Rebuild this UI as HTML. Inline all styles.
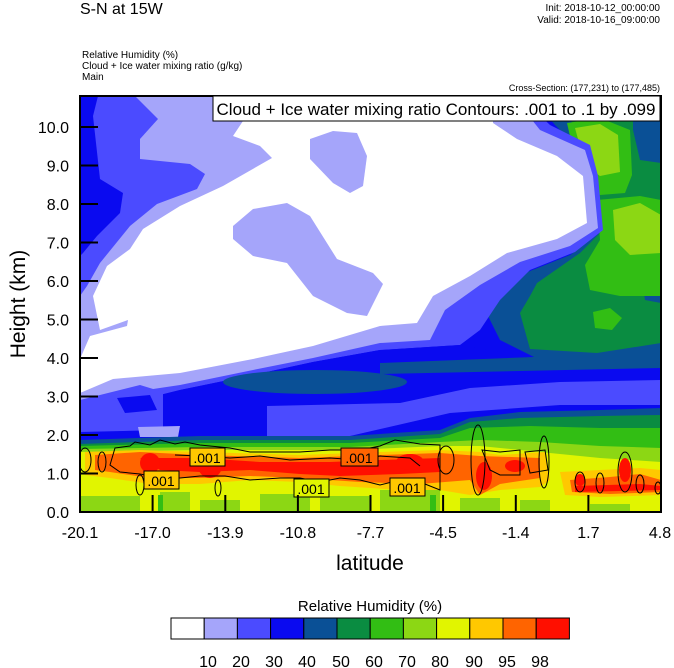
<!DOCTYPE html>
<html><head><meta charset="utf-8"><style>
html,body{margin:0;padding:0;background:#fff;}
svg{display:block;font-family:"Liberation Sans",sans-serif;}
</style></head><body>
<svg width="674" height="668" viewBox="0 0 674 668" xmlns="http://www.w3.org/2000/svg">
<defs><clipPath id="pc"><rect x="80" y="96" width="581" height="416"/></clipPath></defs>
<g clip-path="url(#pc)">
<rect x="80" y="96" width="581" height="416" fill="#0a0af0"/>
<!-- right navy region -->
<path d="M530,96 L661,96 L661,360 L600,362 L540,360 L500,340 L480,300 L520,275 L570,255 L590,240 L596,180 L580,150 L555,125 Z" fill="#0a5096"/>
<!-- right dark green -->
<path d="M567,96 L661,96 L661,343 L597,353 L530,349 L520,313 L530,296 L537,283 L580,253 L607,226 L593,173 L575,140 Z" fill="#0a8c41"/>
<path d="M633,96 L661,96 L661,163 L640,160 L633,130 Z" fill="#0a5096"/>
<path d="M640,270 L661,265 L661,303 L645,300 Z" fill="#0a5096"/>
<!-- greens -->
<path d="M567,123 L600,118 L630,130 L632,175 L625,193 L600,195 L580,180 Z" fill="#32be14"/>
<path d="M575,128 L600,124 L618,135 L620,172 L600,176 L585,165 Z" fill="#8cd714"/>
<path d="M597,200 L640,196 L661,200 L661,296 L620,296 L590,290 L585,265 L600,240 Z" fill="#32be14"/>
<path d="M613,210 L640,203 L661,215 L661,253 L630,255 L615,240 Z" fill="#8cd714"/>
<path d="M593,312 L610,308 L622,318 L612,330 L595,328 Z" fill="#32be14"/>
<!-- upper mid-blue -->
<path d="M80,96 L520,96 L550,125 L590,145 L598,176 L603,230 L575,252 L530,270 L500,300 L480,330 L460,345 L380,350 L313,362 L253,375 L180,390 L120,405 L80,415 Z" fill="#4b4bff"/>
<!-- blue left strip -->
<path d="M80,96 L98,96 L93,116 L100,179 L123,193 L120,213 L97,236 L83,253 L80,256 Z" fill="#0a0af0"/>
<!-- periwinkle -->
<path d="M135,96 L513,96 L540,130 L585,150 L593,176 L598,228 L570,246 L520,262 L480,285 L445,310 L430,340 L380,343 L313,358 L253,370 L180,385 L113,395 L80,405 L80,296 L87,286 L100,263 L130,226 L157,204 L197,189 L205,174 L190,164 L140,159 L140,139 L158,119 Z" fill="#a5a5fa"/>
<!-- white -->
<path d="M243,96 L493,96 L493,123 L517,139 L557,156 L583,176 L587,223 L557,239 L507,253 L470,276 L433,296 L417,323 L380,326 L313,346 L253,359 L180,373 L113,379 L80,393 L80,359 L90,336 L127,326 L128,320 L100,330 L93,296 L107,266 L130,249 L143,229 L180,206 L223,186 L272,158 L260,146 L233,136 L243,121 Z" fill="#ffffff"/>
<path d="M310,139 L333,131 L357,133 L367,156 L363,186 L350,193 L333,183 L310,159 Z" fill="#a5a5fa"/>
<path d="M233,226 L253,209 L287,203 L310,216 L337,259 L373,273 L383,284 L367,316 L347,313 L313,296 L287,263 L253,256 L233,239 Z" fill="#a5a5fa"/>
<!-- lower blue bands -->
<path d="M80,415 L120,405 L180,390 L253,375 L313,362 L380,350 L460,345 L500,352 L540,360 L600,362 L661,360 L661,512 L80,512 Z" fill="#0a0af0"/>
<path d="M80,400 L140,385 L163,392 L163,430 L80,432 Z" fill="#4b4bff"/>
<path d="M117,398 L150,395 L157,410 L125,413 Z" fill="#0a0af0"/>
<path d="M267,406 L400,403 L470,388 L560,382 L661,380 L661,405 L560,405 L450,413 L350,436 L267,436 Z" fill="#4b4bff"/>
<ellipse cx="315" cy="382" rx="92" ry="12" fill="#0a5096"/>
<path d="M380,363 L661,352 L661,368 L380,374 Z" fill="#0a5096"/>
<path d="M138,427 L180,426 L178,437 L140,437 Z" fill="#a5a5fa"/>
<!-- lower green band -->
<path d="M80,440 L200,436 L350,436 L440,430 L470,418 L520,412 L600,410 L661,408 L661,512 L80,512 Z" fill="#0a5096"/>
<path d="M80,444 L200,440 L350,440 L440,434 L470,422 L520,418 L600,416 L661,415 L661,512 L80,512 Z" fill="#0a8c41"/>
<path d="M80,446 L200,443 L350,443 L440,438 L470,428 L530,426 L600,428 L661,428 L661,512 L80,512 Z" fill="#32be14"/>
<path d="M80,449 L200,447 L350,447 L440,442 L480,440 L540,442 L600,446 L661,448 L661,512 L80,512 Z" fill="#8cd714"/>
<path d="M80,452 L200,450 L350,450 L440,446 L480,446 L540,452 L600,458 L661,462 L661,512 L80,512 Z" fill="#e1f500"/>
<!-- bottom light green patches -->
<g fill="#8cd714">
<rect x="80" y="496" width="60" height="16"/><rect x="160" y="492" width="30" height="20"/><rect x="200" y="500" width="40" height="12"/>
<rect x="260" y="494" width="50" height="18"/><rect x="320" y="496" width="50" height="16"/><rect x="380" y="490" width="60" height="22"/>
<rect x="460" y="498" width="40" height="14"/><rect x="520" y="500" width="30" height="12"/><rect x="590" y="504" width="40" height="8"/>
</g>
<rect x="158" y="495" width="5" height="17" fill="#32be14"/><rect x="430" y="495" width="6" height="17" fill="#32be14"/>
<!-- orange band -->
<path d="M85,452 L140,450 L200,452 L300,455 L380,452 L440,450 L480,452 L500,455 L545,452 L550,480 L540,487 L500,490 L470,495 L440,490 L400,490 L340,486 L300,482 L250,480 L200,484 L150,484 L110,478 L85,475 Z" fill="#ffc800"/>
<path d="M560,472 L600,470 L640,468 L661,470 L661,495 L600,497 L565,495 Z" fill="#ffc800"/>
<path d="M95,455 L140,452 L200,455 L300,458 L380,455 L440,453 L480,456 L540,458 L540,478 L500,484 L480,495 L470,480 L420,484 L360,482 L300,478 L250,476 L200,478 L150,478 L110,472 L95,470 Z" fill="#ff6400"/>
<path d="M570,480 L610,477 L640,474 L661,480 L661,492 L610,494 L572,492 Z" fill="#ff6400"/>
<g fill="#ff0f00">
<path d="M140,458 L200,458 L260,462 L330,462 L380,460 L440,458 L440,472 L400,474 L340,476 L300,474 L250,470 L200,472 L160,470 Z"/>
<ellipse cx="150" cy="463" rx="10" ry="10"/><ellipse cx="210" cy="466" rx="12" ry="12"/>
<ellipse cx="484" cy="476" rx="8" ry="14"/><ellipse cx="515" cy="466" rx="10" ry="6"/>
<ellipse cx="410" cy="462" rx="14" ry="8"/>
<path d="M575,486 L640,484 L661,486 L661,490 L575,492 Z"/>
<ellipse cx="625" cy="470" rx="6" ry="12"/><ellipse cx="580" cy="480" rx="5" ry="6"/>
</g>
<!-- contours -->
<g fill="none" stroke="#000" stroke-width="1">
<path d="M115,448 L130,446 L135,442 L150,445 L160,440 L175,444 L185,442 L200,445 L230,448 L250,452 L300,452 L330,450 L360,450 L380,446 L395,440 L420,444 L440,445 L440,490 L420,482 L400,480 L380,485 L360,480 L340,478 L320,482 L300,478 L280,478 L250,480 L225,476 L200,476 L180,478 L160,478 L140,474 L120,472 L110,465 Z"/>
<path d="M175,455 L200,456 L230,458 L260,456 L290,460 L330,458 L360,460 L380,456 L410,458 L420,466"/>
<ellipse cx="85" cy="460" rx="6" ry="12"/><ellipse cx="102" cy="462" rx="4" ry="10"/>
<ellipse cx="140" cy="485" rx="4" ry="10"/><ellipse cx="218" cy="488" rx="3" ry="8"/>
<ellipse cx="478" cy="460" rx="7" ry="35"/><ellipse cx="446" cy="460" rx="8" ry="14"/>
<path d="M482,450 L500,452 L520,450 L520,475 L500,475 L490,470 Z"/>
<path d="M525,452 L545,450 L548,470 L530,473 Z"/>
<ellipse cx="544" cy="462" rx="5" ry="26"/>
<ellipse cx="580" cy="482" rx="5" ry="10"/><ellipse cx="600" cy="483" rx="4" ry="10"/>
<ellipse cx="625" cy="472" rx="7" ry="20"/><ellipse cx="640" cy="484" rx="4" ry="9"/><ellipse cx="658" cy="488" rx="3" ry="6"/>
</g>
<!-- labels -->
<g font-size="14" fill="#000">
<rect x="190" y="448" width="35" height="18" fill="#ffc800" stroke="#000"/><text x="207" y="463" text-anchor="middle">.001</text>
<rect x="144" y="471" width="35" height="18" fill="#ffc800" stroke="#000"/><text x="161" y="486" text-anchor="middle">.001</text>
<rect x="294" y="479" width="35" height="18" fill="#e1f500" stroke="#000"/><text x="311" y="494" text-anchor="middle">.001</text>
<rect x="341" y="448" width="37" height="18" fill="#ff6400" stroke="#000"/><text x="359" y="463" text-anchor="middle">.001</text>
<rect x="390" y="478" width="35" height="18" fill="#ffc800" stroke="#000"/><text x="407" y="493" text-anchor="middle">.001</text>
</g>
</g>
<!-- frame & ticks -->
<rect x="80" y="96" width="581" height="416" fill="none" stroke="#000" stroke-width="2"/>
<g stroke="#000" stroke-width="2">
<line x1="80" y1="512" x2="98" y2="512"/><line x1="80" y1="473.5" x2="98" y2="473.5"/><line x1="80" y1="435" x2="98" y2="435"/>
<line x1="80" y1="396.5" x2="98" y2="396.5"/><line x1="80" y1="358" x2="98" y2="358"/><line x1="80" y1="319.5" x2="98" y2="319.5"/>
<line x1="80" y1="281" x2="98" y2="281"/><line x1="80" y1="242.5" x2="98" y2="242.5"/><line x1="80" y1="204" x2="98" y2="204"/>
<line x1="80" y1="165.5" x2="98" y2="165.5"/><line x1="80" y1="127" x2="98" y2="127"/>
<line x1="152.6" y1="512" x2="152.6" y2="495"/><line x1="225.3" y1="512" x2="225.3" y2="495"/><line x1="297.9" y1="512" x2="297.9" y2="495"/>
<line x1="370.5" y1="512" x2="370.5" y2="495"/><line x1="443.1" y1="512" x2="443.1" y2="495"/><line x1="515.8" y1="512" x2="515.8" y2="495"/><line x1="588.4" y1="512" x2="588.4" y2="495"/>
</g>
<rect x="213" y="96" width="447" height="25" fill="#fff" stroke="#000" stroke-width="1"/>
<text x="436" y="115" font-size="17" text-anchor="middle">Cloud + Ice water mixing ratio Contours: .001 to .1 by .099</text>
<g font-size="16" text-anchor="end">
<text x="69" y="518">0.0</text><text x="69" y="479.5">1.0</text><text x="69" y="441">2.0</text><text x="69" y="402.5">3.0</text>
<text x="69" y="364">4.0</text><text x="69" y="325.5">5.0</text><text x="69" y="287">6.0</text><text x="69" y="248.5">7.0</text>
<text x="69" y="210">8.0</text><text x="69" y="171.5">9.0</text><text x="69" y="133">10.0</text>
</g>
<g font-size="16" text-anchor="middle">
<text x="80" y="538">-20.1</text><text x="152.6" y="538">-17.0</text><text x="225.3" y="538">-13.9</text><text x="297.9" y="538">-10.8</text>
<text x="370.5" y="538">-7.7</text><text x="443.1" y="538">-4.5</text><text x="515.8" y="538">-1.4</text><text x="588.4" y="538">1.7</text><text x="660" y="538">4.8</text>
</g>
<text x="370" y="570" font-size="21" text-anchor="middle">latitude</text>
<text transform="translate(25,304) rotate(-90)" font-size="21" text-anchor="middle">Height (km)</text>
<text x="80" y="14" font-size="16">S-N at 15W</text>
<text x="660" y="11" font-size="10" text-anchor="end">Init: 2018-10-12_00:00:00</text>
<text x="660" y="23" font-size="10" text-anchor="end">Valid: 2018-10-16_09:00:00</text>
<text x="82" y="58" font-size="10">Relative Humidity   (%)</text>
<text x="82" y="69" font-size="10">Cloud + Ice water mixing ratio   (g/kg)</text>
<text x="82" y="80" font-size="10">Main</text>
<text x="660" y="91" font-size="9" text-anchor="end">Cross-Section: (177,231) to (177,485)</text>
<!-- colorbar -->
<text x="370" y="611" font-size="15" text-anchor="middle">Relative Humidity  (%)</text>
<g stroke="#000" stroke-width="1">
<rect x="171" y="618" width="33.2" height="21" fill="#ffffff"/>
<rect x="204.2" y="618" width="33.2" height="21" fill="#a5a5fa"/>
<rect x="237.4" y="618" width="33.2" height="21" fill="#4b4bff"/>
<rect x="270.6" y="618" width="33.2" height="21" fill="#0a0af0"/>
<rect x="303.8" y="618" width="33.2" height="21" fill="#0a5096"/>
<rect x="337" y="618" width="33.2" height="21" fill="#0a8c41"/>
<rect x="370.2" y="618" width="33.2" height="21" fill="#32be14"/>
<rect x="403.4" y="618" width="33.2" height="21" fill="#8cd714"/>
<rect x="436.6" y="618" width="33.2" height="21" fill="#e1f500"/>
<rect x="469.8" y="618" width="33.2" height="21" fill="#ffc800"/>
<rect x="503" y="618" width="33.2" height="21" fill="#ff6400"/>
<rect x="536.2" y="618" width="33.2" height="21" fill="#ff0f00"/>
</g>
<g font-size="16" text-anchor="middle">
<text x="208" y="667">10</text><text x="241" y="667">20</text><text x="274" y="667">30</text><text x="307" y="667">40</text>
<text x="341" y="667">50</text><text x="374" y="667">60</text><text x="407" y="667">70</text><text x="440" y="667">80</text>
<text x="474" y="667">90</text><text x="507" y="667">95</text><text x="540" y="667">98</text>
</g>
</svg>
</body></html>
